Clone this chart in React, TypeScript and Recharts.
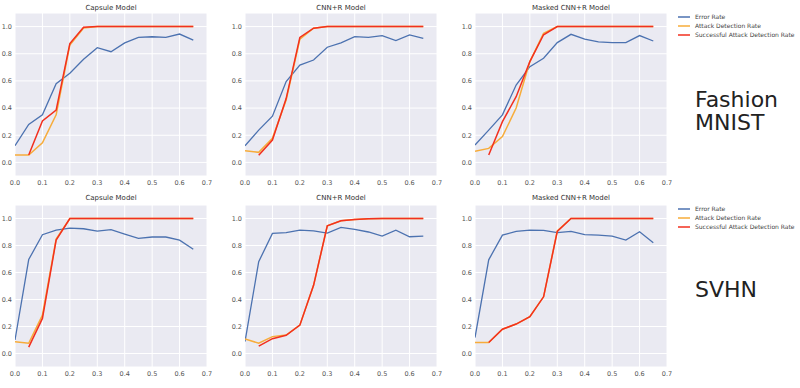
import React from "react";
import { LineChart, Line, XAxis, YAxis, CartesianGrid } from "recharts";

const xs = [0, 0.05, 0.1, 0.15, 0.2, 0.25, 0.3, 0.35, 0.4, 0.45, 0.5, 0.55, 0.6, 0.65];
const xTicks = [0, 0.1, 0.2, 0.3, 0.4, 0.5, 0.6, 0.7];
const yTicks = [0, 0.2, 0.4, 0.6, 0.8, 1.0];
const seriesNames = ["Error Rate", "Attack Detection Rate", "Successful Attack Detection Rate"];
const seriesColors = ["#4C72B0", "#F7AC3A", "#F2301F"];
const modelTitles = ["Capsule Model", "CNN+R Model", "Masked CNN+R Model"];
const datasetLabels = [["Fashion", "MNIST"], ["SVHN"]];

// Fashion MNIST
const fCapsErr = [0.123, 0.28, 0.35, 0.58, 0.656, 0.76, 0.845, 0.815, 0.88, 0.92, 0.925, 0.92, 0.945, 0.9];
const fCapsAtt = [0.055, 0.055, 0.145, 0.35, 0.865, 0.99, 1.0, 1.0, 1.0, 1.0, 1.0, 1.0, 1.0, 1.0];
const fCapsSucc = [null, 0.055, 0.305, 0.385, 0.875, 0.995, 1.0, 1.0, 1.0, 1.0, 1.0, 1.0, 1.0, 1.0];

const fCnnErr = [0.123, 0.238, 0.34, 0.595, 0.717, 0.754, 0.848, 0.88, 0.926, 0.92, 0.934, 0.897, 0.939, 0.914];
const fCnnAtt = [0.086, 0.074, 0.177, 0.46, 0.907, 0.988, 1.0, 1.0, 1.0, 1.0, 1.0, 1.0, 1.0, 1.0];
const fCnnSucc = [null, 0.052, 0.165, 0.47, 0.92, 0.988, 1.0, 1.0, 1.0, 1.0, 1.0, 1.0, 1.0, 1.0];

const fMaskErr = [0.128, 0.238, 0.35, 0.57, 0.705, 0.767, 0.882, 0.943, 0.907, 0.887, 0.882, 0.882, 0.934, 0.894];
const fMaskAtt = [0.083, 0.103, 0.19, 0.4, 0.742, 0.95, 1.0, 1.0, 1.0, 1.0, 1.0, 1.0, 1.0, 1.0];
const fMaskSucc = [null, 0.054, 0.3, 0.484, 0.742, 0.94, 1.0, 1.0, 1.0, 1.0, 1.0, 1.0, 1.0, 1.0];

// SVHN
const sCapsErr = [0.1, 0.696, 0.88, 0.914, 0.929, 0.924, 0.907, 0.917, 0.885, 0.853, 0.863, 0.863, 0.84, 0.772];
const sCapsAtt = [0.088, 0.076, 0.284, 0.848, 1.0, 1.0, 1.0, 1.0, 1.0, 1.0, 1.0, 1.0, 1.0, 1.0];
const sCapsSucc = [null, 0.047, 0.26, 0.84, 1.0, 1.0, 1.0, 1.0, 1.0, 1.0, 1.0, 1.0, 1.0, 1.0];

const sCnnErr = [0.088, 0.68, 0.89, 0.895, 0.914, 0.909, 0.892, 0.934, 0.92, 0.9, 0.87, 0.914, 0.865, 0.87];
const sCnnAtt = [0.108, 0.076, 0.125, 0.137, 0.21, 0.505, 0.946, 0.983, 0.993, 0.998, 1.0, 1.0, 1.0, 1.0];
const sCnnSucc = [null, 0.054, 0.11, 0.135, 0.21, 0.505, 0.946, 0.983, 0.993, 0.998, 1.0, 1.0, 1.0, 1.0];

const sMaskErr = [0.118, 0.694, 0.877, 0.904, 0.914, 0.912, 0.895, 0.904, 0.88, 0.877, 0.87, 0.84, 0.902, 0.821];
const sMaskAtt = [0.081, 0.081, 0.18, 0.218, 0.272, 0.42, 0.909, 1.0, 1.0, 1.0, 1.0, 1.0, 1.0, 1.0];
const sMaskSucc = [null, 0.081, 0.18, 0.218, 0.272, 0.42, 0.904, 1.0, 1.0, 1.0, 1.0, 1.0, 1.0, 1.0];

const panels = [
  [
    [fCapsErr, fCapsAtt, fCapsSucc],
    [fCnnErr, fCnnAtt, fCnnSucc],
    [fMaskErr, fMaskAtt, fMaskSucc],
  ],
  [
    [sCapsErr, sCapsAtt, sCapsSucc],
    [sCnnErr, sCnnAtt, sCnnSucc],
    [sMaskErr, sMaskAtt, sMaskSucc],
  ],
];

const FONT = "'DejaVu Sans', sans-serif";
const plotLefts = [15, 245, 475];
const plotWidth = 192;
const rowTops = [13, 205];
const rowHeights = [163, 162];
const titleBaselines = [10, 200];
const legendRows = [[17, 26, 35], [209, 218, 227]];
const bigTextBaselines = [[107, 130], [297]];
const Y_AXIS_W = 15;
const X_AXIS_H = 14;
const RIGHT_PAD = 10;

function buildData(series: (number | null)[][]) {
  return xs.map((x, i) => ({ x, err: series[0][i], att: series[1][i], succ: series[2][i] }));
}

const fmt = (v: number) => v.toFixed(1);

function Panel({ series, left, top, height }: { series: (number | null)[][]; left: number; top: number; height: number }) {
  const data = buildData(series);
  const tickStyle = { fontSize: 6.5, fill: "#555", fontFamily: FONT };
  return (
    <div style={{ position: "absolute", left: left - Y_AXIS_W, top }}>
      <LineChart
        width={Y_AXIS_W + plotWidth + RIGHT_PAD}
        height={height + X_AXIS_H}
        data={data}
        margin={{ top: 0, right: RIGHT_PAD, left: 0, bottom: 0 }}
      >
        <CartesianGrid fill="#EAEAF2" stroke="#FFFFFF" strokeWidth={1} />
        <XAxis
          dataKey="x"
          type="number"
          domain={[0, 0.7]}
          ticks={xTicks}
          tickFormatter={fmt}
          axisLine={false}
          tickLine={false}
          tickSize={0}
          tickMargin={4}
          height={X_AXIS_H}
          tick={tickStyle}
          interval={0}
          allowDataOverflow
        />
        <YAxis
          type="number"
          domain={[-0.1, 1.1]}
          ticks={yTicks}
          tickFormatter={fmt}
          axisLine={false}
          tickLine={false}
          tickSize={0}
          tickMargin={3}
          width={Y_AXIS_W}
          tick={tickStyle}
          interval={0}
          allowDataOverflow
        />
        <Line type="linear" dataKey="err" stroke={seriesColors[0]} strokeWidth={1.3} dot={false} isAnimationActive={false} />
        <Line type="linear" dataKey="att" stroke={seriesColors[1]} strokeWidth={1.5} dot={false} isAnimationActive={false} />
        <Line type="linear" dataKey="succ" stroke={seriesColors[2]} strokeWidth={1.5} dot={false} isAnimationActive={false} connectNulls={false} />
      </LineChart>
    </div>
  );
}

export default function App() {
  return (
    <div style={{ position: "fixed", left: 0, top: 0, width: 800, height: 388, background: "#fff", overflow: "hidden" }}>
      {panels.map((row, r) =>
        row.map((series, c) => (
          <Panel key={`${r}-${c}`} series={series} left={plotLefts[c]} top={rowTops[r]} height={rowHeights[r]} />
        ))
      )}
      <svg width={800} height={388} style={{ position: "absolute", left: 0, top: 0, pointerEvents: "none" }}>
        {rowTops.map((_, r) =>
          modelTitles.map((t, c) => (
            <text
              key={`t${r}${c}`}
              x={plotLefts[c] + plotWidth / 2}
              y={titleBaselines[r]}
              textAnchor="middle"
              fontSize={7}
              fontFamily={FONT}
              fill="#333"
            >
              {t}
            </text>
          ))
        )}
        {legendRows.map((rows, r) =>
          rows.map((cy, i) => (
            <g key={`l${r}${i}`}>
              <line x1={678} x2={690} y1={cy} y2={cy} stroke={seriesColors[i]} strokeWidth={1.5} />
              <text x={695} y={cy + 2.2} fontSize={6} fontFamily={FONT} fill="#444">
                {seriesNames[i]}
              </text>
            </g>
          ))
        )}
        {datasetLabels.map((lines, r) =>
          lines.map((s, i) => (
            <text key={`d${r}${i}`} x={695} y={bigTextBaselines[r][i]} fontSize={22} fontFamily={FONT} fill="#222">
              {s}
            </text>
          ))
        )}
      </svg>
    </div>
  );
}
